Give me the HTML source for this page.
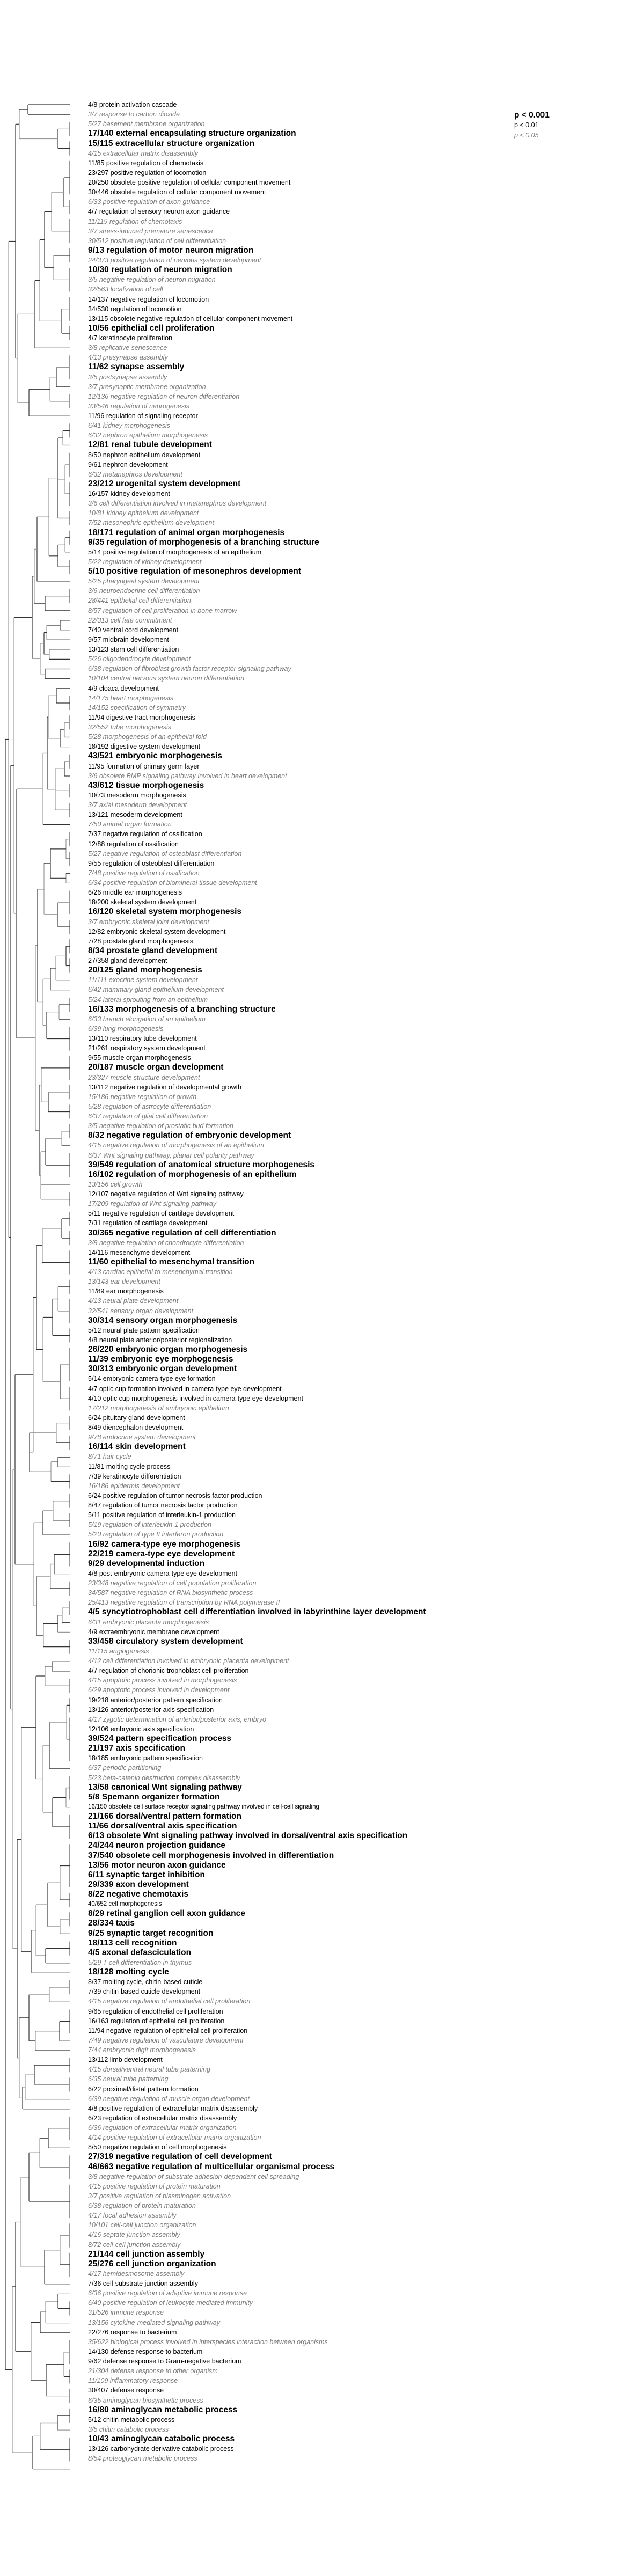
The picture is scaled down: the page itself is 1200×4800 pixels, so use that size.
<!DOCTYPE html>
<html><head><meta charset="utf-8">
<style>
html,body{margin:0;padding:0;background:#fff;}
#wrap{position:relative;width:1200px;height:4800px;overflow:hidden;background:#fff;font-family:"Liberation Sans",Arial,sans-serif;}
#labels{position:absolute;left:164px;top:186px;width:1030px;}
#labels div{height:18.13px;line-height:18.13px;font-size:12.5px;color:#000;white-space:nowrap;}
#labels .b{font-weight:bold;font-size:15.5px;}
#labels .i{font-style:italic;color:#7a7a7a;}
#labels .s{font-size:11.5px;}
#legend{position:absolute;left:958px;top:205px;}
#legend div{height:19px;line-height:19px;font-size:12.5px;white-space:nowrap;}
#tree{position:absolute;left:0;top:0;}
</style></head><body><div id="wrap">
<svg id="tree" width="1200" height="4800" xmlns="http://www.w3.org/2000/svg"></svg>
<div id="legend"><div style="font-weight:bold;font-size:15.5px">p &lt; 0.001</div><div>p &lt; 0.01</div><div style="font-style:italic;color:#7a7a7a">p &lt; 0.05</div></div>
<div id="labels">
<div>4/8 protein activation cascade</div>
<div class="i">3/7 response to carbon dioxide</div>
<div class="i">5/27 basement membrane organization</div>
<div class="b">17/140 external encapsulating structure organization</div>
<div class="b">15/115 extracellular structure organization</div>
<div class="i">4/15 extracellular matrix disassembly</div>
<div>11/85 positive regulation of chemotaxis</div>
<div>23/297 positive regulation of locomotion</div>
<div>20/250 obsolete positive regulation of cellular component movement</div>
<div>30/446 obsolete regulation of cellular component movement</div>
<div class="i">6/33 positive regulation of axon guidance</div>
<div>4/7 regulation of sensory neuron axon guidance</div>
<div class="i">11/119 regulation of chemotaxis</div>
<div class="i">3/7 stress-induced premature senescence</div>
<div class="i">30/512 positive regulation of cell differentiation</div>
<div class="b">9/13 regulation of motor neuron migration</div>
<div class="i">24/373 positive regulation of nervous system development</div>
<div class="b">10/30 regulation of neuron migration</div>
<div class="i">3/5 negative regulation of neuron migration</div>
<div class="i">32/563 localization of cell</div>
<div>14/137 negative regulation of locomotion</div>
<div>34/530 regulation of locomotion</div>
<div>13/115 obsolete negative regulation of cellular component movement</div>
<div class="b">10/56 epithelial cell proliferation</div>
<div>4/7 keratinocyte proliferation</div>
<div class="i">3/8 replicative senescence</div>
<div class="i">4/13 presynapse assembly</div>
<div class="b">11/62 synapse assembly</div>
<div class="i">3/5 postsynapse assembly</div>
<div class="i">3/7 presynaptic membrane organization</div>
<div class="i">12/136 negative regulation of neuron differentiation</div>
<div class="i">33/546 regulation of neurogenesis</div>
<div>11/96 regulation of signaling receptor</div>
<div class="i">6/41 kidney morphogenesis</div>
<div class="i">6/32 nephron epithelium morphogenesis</div>
<div class="b">12/81 renal tubule development</div>
<div>8/50 nephron epithelium development</div>
<div>9/61 nephron development</div>
<div class="i">6/32 metanephros development</div>
<div class="b">23/212 urogenital system development</div>
<div>16/157 kidney development</div>
<div class="i">3/6 cell differentiation involved in metanephros development</div>
<div class="i">10/81 kidney epithelium development</div>
<div class="i">7/52 mesonephric epithelium development</div>
<div class="b">18/171 regulation of animal organ morphogenesis</div>
<div class="b">9/35 regulation of morphogenesis of a branching structure</div>
<div>5/14 positive regulation of morphogenesis of an epithelium</div>
<div class="i">5/22 regulation of kidney development</div>
<div class="b">5/10 positive regulation of mesonephros development</div>
<div class="i">5/25 pharyngeal system development</div>
<div class="i">3/6 neuroendocrine cell differentiation</div>
<div class="i">28/441 epithelial cell differentiation</div>
<div class="i">8/57 regulation of cell proliferation in bone marrow</div>
<div class="i">22/313 cell fate commitment</div>
<div>7/40 ventral cord development</div>
<div>9/57 midbrain development</div>
<div>13/123 stem cell differentiation</div>
<div class="i">5/26 oligodendrocyte development</div>
<div class="i">6/38 regulation of fibroblast growth factor receptor signaling pathway</div>
<div class="i">10/104 central nervous system neuron differentiation</div>
<div>4/9 cloaca development</div>
<div class="i">14/175 heart morphogenesis</div>
<div class="i">14/152 specification of symmetry</div>
<div>11/94 digestive tract morphogenesis</div>
<div class="i">32/552 tube morphogenesis</div>
<div class="i">5/28 morphogenesis of an epithelial fold</div>
<div>18/192 digestive system development</div>
<div class="b">43/521 embryonic morphogenesis</div>
<div>11/95 formation of primary germ layer</div>
<div class="i">3/6 obsolete BMP signaling pathway involved in heart development</div>
<div class="b">43/612 tissue morphogenesis</div>
<div>10/73 mesoderm morphogenesis</div>
<div class="i">3/7 axial mesoderm development</div>
<div>13/121 mesoderm development</div>
<div class="i">7/50 animal organ formation</div>
<div>7/37 negative regulation of ossification</div>
<div>12/88 regulation of ossification</div>
<div class="i">5/27 negative regulation of osteoblast differentiation</div>
<div>9/55 regulation of osteoblast differentiation</div>
<div class="i">7/48 positive regulation of ossification</div>
<div class="i">6/34 positive regulation of biomineral tissue development</div>
<div>6/26 middle ear morphogenesis</div>
<div>18/200 skeletal system development</div>
<div class="b">16/120 skeletal system morphogenesis</div>
<div class="i">3/7 embryonic skeletal joint development</div>
<div>12/82 embryonic skeletal system development</div>
<div>7/28 prostate gland morphogenesis</div>
<div class="b">8/34 prostate gland development</div>
<div>27/358 gland development</div>
<div class="b">20/125 gland morphogenesis</div>
<div class="i">11/111 exocrine system development</div>
<div class="i">6/42 mammary gland epithelium development</div>
<div class="i">5/24 lateral sprouting from an epithelium</div>
<div class="b">16/133 morphogenesis of a branching structure</div>
<div class="i">6/33 branch elongation of an epithelium</div>
<div class="i">6/39 lung morphogenesis</div>
<div>13/110 respiratory tube development</div>
<div>21/261 respiratory system development</div>
<div>9/55 muscle organ morphogenesis</div>
<div class="b">20/187 muscle organ development</div>
<div class="i">23/327 muscle structure development</div>
<div>13/112 negative regulation of developmental growth</div>
<div class="i">15/186 negative regulation of growth</div>
<div class="i">5/28 regulation of astrocyte differentiation</div>
<div class="i">6/37 regulation of glial cell differentiation</div>
<div class="i">3/5 negative regulation of prostatic bud formation</div>
<div class="b">8/32 negative regulation of embryonic development</div>
<div class="i">4/15 negative regulation of morphogenesis of an epithelium</div>
<div class="i">6/37 Wnt signaling pathway, planar cell polarity pathway</div>
<div class="b">39/549 regulation of anatomical structure morphogenesis</div>
<div class="b">16/102 regulation of morphogenesis of an epithelium</div>
<div class="i">13/156 cell growth</div>
<div>12/107 negative regulation of Wnt signaling pathway</div>
<div class="i">17/209 regulation of Wnt signaling pathway</div>
<div>5/11 negative regulation of cartilage development</div>
<div>7/31 regulation of cartilage development</div>
<div class="b">30/365 negative regulation of cell differentiation</div>
<div class="i">3/8 negative regulation of chondrocyte differentiation</div>
<div>14/116 mesenchyme development</div>
<div class="b">11/60 epithelial to mesenchymal transition</div>
<div class="i">4/13 cardiac epithelial to mesenchymal transition</div>
<div class="i">13/143 ear development</div>
<div>11/89 ear morphogenesis</div>
<div class="i">4/13 neural plate development</div>
<div class="i">32/541 sensory organ development</div>
<div class="b">30/314 sensory organ morphogenesis</div>
<div>5/12 neural plate pattern specification</div>
<div>4/8 neural plate anterior/posterior regionalization</div>
<div class="b">26/220 embryonic organ morphogenesis</div>
<div class="b">11/39 embryonic eye morphogenesis</div>
<div class="b">30/313 embryonic organ development</div>
<div>5/14 embryonic camera-type eye formation</div>
<div>4/7 optic cup formation involved in camera-type eye development</div>
<div>4/10 optic cup morphogenesis involved in camera-type eye development</div>
<div class="i">17/212 morphogenesis of embryonic epithelium</div>
<div>6/24 pituitary gland development</div>
<div>8/49 diencephalon development</div>
<div class="i">9/78 endocrine system development</div>
<div class="b">16/114 skin development</div>
<div class="i">8/71 hair cycle</div>
<div>11/81 molting cycle process</div>
<div>7/39 keratinocyte differentiation</div>
<div class="i">16/186 epidermis development</div>
<div>6/24 positive regulation of tumor necrosis factor production</div>
<div>8/47 regulation of tumor necrosis factor production</div>
<div>5/11 positive regulation of interleukin-1 production</div>
<div class="i">5/19 regulation of interleukin-1 production</div>
<div class="i">5/20 regulation of type II interferon production</div>
<div class="b">16/92 camera-type eye morphogenesis</div>
<div class="b">22/219 camera-type eye development</div>
<div class="b">9/29 developmental induction</div>
<div>4/8 post-embryonic camera-type eye development</div>
<div class="i">23/348 negative regulation of cell population proliferation</div>
<div class="i">34/587 negative regulation of RNA biosynthetic process</div>
<div class="i">25/413 negative regulation of transcription by RNA polymerase II</div>
<div class="b">4/5 syncytiotrophoblast cell differentiation involved in labyrinthine layer development</div>
<div class="i">6/31 embryonic placenta morphogenesis</div>
<div>4/9 extraembryonic membrane development</div>
<div class="b">33/458 circulatory system development</div>
<div class="i">11/115 angiogenesis</div>
<div class="i">4/12 cell differentiation involved in embryonic placenta development</div>
<div>4/7 regulation of chorionic trophoblast cell proliferation</div>
<div class="i">4/15 apoptotic process involved in morphogenesis</div>
<div class="i">6/29 apoptotic process involved in development</div>
<div>19/218 anterior/posterior pattern specification</div>
<div>13/126 anterior/posterior axis specification</div>
<div class="i">4/17 zygotic determination of anterior/posterior axis, embryo</div>
<div>12/106 embryonic axis specification</div>
<div class="b">39/524 pattern specification process</div>
<div class="b">21/197 axis specification</div>
<div>18/185 embryonic pattern specification</div>
<div class="i">6/37 periodic partitioning</div>
<div class="i">5/23 beta-catenin destruction complex disassembly</div>
<div class="b">13/58 canonical Wnt signaling pathway</div>
<div class="b">5/8 Spemann organizer formation</div>
<div class="s">16/150 obsolete cell surface receptor signaling pathway involved in cell-cell signaling</div>
<div class="b">21/166 dorsal/ventral pattern formation</div>
<div class="b">11/66 dorsal/ventral axis specification</div>
<div class="b">6/13 obsolete Wnt signaling pathway involved in dorsal/ventral axis specification</div>
<div class="b">24/244 neuron projection guidance</div>
<div class="b">37/540 obsolete cell morphogenesis involved in differentiation</div>
<div class="b">13/56 motor neuron axon guidance</div>
<div class="b">6/11 synaptic target inhibition</div>
<div class="b">29/339 axon development</div>
<div class="b">8/22 negative chemotaxis</div>
<div class="s">40/652 cell morphogenesis</div>
<div class="b">8/29 retinal ganglion cell axon guidance</div>
<div class="b">28/334 taxis</div>
<div class="b">9/25 synaptic target recognition</div>
<div class="b">18/113 cell recognition</div>
<div class="b">4/5 axonal defasciculation</div>
<div class="i">5/29 T cell differentiation in thymus</div>
<div class="b">18/128 molting cycle</div>
<div>8/37 molting cycle, chitin-based cuticle</div>
<div>7/39 chitin-based cuticle development</div>
<div class="i">4/15 negative regulation of endothelial cell proliferation</div>
<div>9/65 regulation of endothelial cell proliferation</div>
<div>16/163 regulation of epithelial cell proliferation</div>
<div>11/94 negative regulation of epithelial cell proliferation</div>
<div class="i">7/49 negative regulation of vasculature development</div>
<div class="i">7/44 embryonic digit morphogenesis</div>
<div>13/112 limb development</div>
<div class="i">4/15 dorsal/ventral neural tube patterning</div>
<div class="i">6/35 neural tube patterning</div>
<div>6/22 proximal/distal pattern formation</div>
<div class="i">6/39 negative regulation of muscle organ development</div>
<div>4/8 positive regulation of extracellular matrix disassembly</div>
<div>6/23 regulation of extracellular matrix disassembly</div>
<div class="i">6/36 regulation of extracellular matrix organization</div>
<div class="i">4/14 positive regulation of extracellular matrix organization</div>
<div>8/50 negative regulation of cell morphogenesis</div>
<div class="b">27/319 negative regulation of cell development</div>
<div class="b">46/663 negative regulation of multicellular organismal process</div>
<div class="i">3/8 negative regulation of substrate adhesion-dependent cell spreading</div>
<div class="i">4/15 positive regulation of protein maturation</div>
<div class="i">3/7 positive regulation of plasminogen activation</div>
<div class="i">6/38 regulation of protein maturation</div>
<div class="i">4/17 focal adhesion assembly</div>
<div class="i">10/101 cell-cell junction organization</div>
<div class="i">4/16 septate junction assembly</div>
<div class="i">8/72 cell-cell junction assembly</div>
<div class="b">21/144 cell junction assembly</div>
<div class="b">25/276 cell junction organization</div>
<div class="i">4/17 hemidesmosome assembly</div>
<div>7/36 cell-substrate junction assembly</div>
<div class="i">6/36 positive regulation of adaptive immune response</div>
<div class="i">6/40 positive regulation of leukocyte mediated immunity</div>
<div class="i">31/526 immune response</div>
<div class="i">13/156 cytokine-mediated signaling pathway</div>
<div>22/276 response to bacterium</div>
<div class="i">35/622 biological process involved in interspecies interaction between organisms</div>
<div>14/130 defense response to bacterium</div>
<div>9/62 defense response to Gram-negative bacterium</div>
<div class="i">21/304 defense response to other organism</div>
<div class="i">11/109 inflammatory response</div>
<div>30/407 defense response</div>
<div class="i">6/35 aminoglycan biosynthetic process</div>
<div class="b">16/80 aminoglycan metabolic process</div>
<div>5/12 chitin metabolic process</div>
<div class="i">3/5 chitin catabolic process</div>
<div class="b">10/43 aminoglycan catabolic process</div>
<div>13/126 carbohydrate derivative catabolic process</div>
<div class="i">8/54 proteoglycan metabolic process</div>
</div>
</div>
<script>
(function(){
function L(a,b){return {leaf:true,a:a,b:(b===undefined?a:b)};}
function N(x){return {x:x,k:Array.prototype.slice.call(arguments,1)};}
function Y(i){return 195+18.13*i;}
var G1=N(36,N(52,L(0),L(1)),N(108,L(2,3),L(4,5)));
var G2=N(65,N(74,N(83,N(96,N(119,L(6,9),L(10,11)),L(12,14)),N(100,L(15,16),L(17,19))),N(115,L(20,22),L(23,24))),L(25));
var G3=N(54,N(93,N(105,L(26,28),L(29)),L(30,31)),L(32));
var C=N(91,N(108,N(117,L(33,34),L(35)),N(121,L(36,38),L(39,41)),L(42,43)),N(108,N(121,L(44,45),L(46)),L(47,48)));
var G4=N(60,N(64,N(69,C,L(49)),N(84,L(50,51),L(52))),N(75,N(82,N(87,N(112,L(53),L(54)),L(55)),N(92,L(56),L(57))),N(84,L(58),L(59))));
var G5=N(80,N(88,N(90,N(105,L(60),L(61,62)),N(112,N(120,L(63,64),L(65)),L(66))),N(103,N(120,L(67,68),L(69)),L(70,71),L(72,73))),L(74));
var G6a=N(82,N(94,N(123,L(75,76),L(77,78)),N(123,L(79),L(80))),N(108,L(81,83),L(84,85)));
var G6b=N(80,N(94,N(104,N(123,L(86,87),L(88,89)),L(90)),L(91)),N(87,N(110,L(92,93),L(94)),L(95,97)));
var G6c=N(73,N(77,L(98,100),N(90,L(101,102),L(103,104))),N(76,N(85,N(115,L(105,106),L(107)),L(108,110)),L(111),L(112,113)));
var G6=N(66,N(70,G6a,G6b),G6c);
var G7=N(62,N(68,N(79,N(115,L(114,115),L(116,117)),L(118,120)),N(80,N(98,N(108,L(121,122),L(123,125)),L(126,127)),N(112,L(128,131),L(132,134)))),N(55,N(105,L(135,136),L(137,138)),N(95,N(108,L(139),L(140)),L(141,142))));
var G8=N(63,N(80,N(99,L(143,144),L(145,146)),L(147)),N(68,N(94,N(101,L(148,150),L(151)),L(152,153)),N(81,N(108,N(116,L(154,155),L(156)),L(157)),L(158,159))));
var G9=N(67,N(84,N(97,L(160),L(161)),L(162,163)),N(80,N(92,N(124,L(164,165),L(166,170)),L(171)),N(98,N(123,L(172,174),L(175)),L(176,178))));
var G10=N(58,N(67,N(89,N(112,L(179,183),L(184,185)),N(112,L(186,187),L(188))),N(85,L(189,190),L(191))),L(192));
var G11=N(54,N(92,L(193,194),L(195)),N(66,N(111,L(196,198),L(199)),L(200)));
var G12=N(47,N(64,L(201,202),L(203,204)),L(205));
var G13=N(39,N(54,N(74,N(90,L(207,209),L(210)),L(211,213)),L(214,217)),N(83,N(112,L(218,220),L(221,223)),L(224)));
var G14=N(58,N(75,N(85,N(108,L(225),L(226,227)),L(228)),L(229)),N(86,N(119,L(230,232),L(233,234)),L(235,236)));
var G15=N(61,N(75,N(107,L(237,238),L(239)),L(240,242)),L(243));
var root=N(10,N(16,N(29,G1,N(33,G2,G3)),N(20,N(26,G4,N(31,G5,G6)),N(24,N(28,G7,G8),N(32,N(40,G9,G10),N(36,G11,N(42,G12,L(206))))))),N(23,N(29,G13,G14),G15));
var out=[];
function line(x1,y1,x2,y2,c){out.push('<line x1="'+x1+'" y1="'+y1.toFixed(1)+'" x2="'+x2+'" y2="'+y2.toFixed(1)+'" stroke="'+c+'" stroke-width="1.2"/>');}
var cnt=0;
function lay(n,d){
  if(n.leaf){n.x=130;var y1=Y(n.a),y2=Y(n.b);n.y=(y1+y2)/2;
    if(n.b>n.a){line(130,y1-4,130,y2+4,'#555');}
    return n;}
  for(var i=0;i<n.k.length;i++)lay(n.k[i],d+1);
  var f=n.k[0],l=n.k[n.k.length-1];n.y=(f.y+l.y)/2;
  var c=(d%2==0)?'#333':'#999';
  line(n.x,f.y,n.x,l.y,c);
  for(var j=0;j<n.k.length;j++){var ch=n.k[j];cnt++;line(n.x,ch.y,ch.x,ch.y,(cnt%3==0)?'#999':'#333');}
  return n;
}
lay(root,0);
document.getElementById('tree').innerHTML=out.join('');
})();
</script>
</body></html>
